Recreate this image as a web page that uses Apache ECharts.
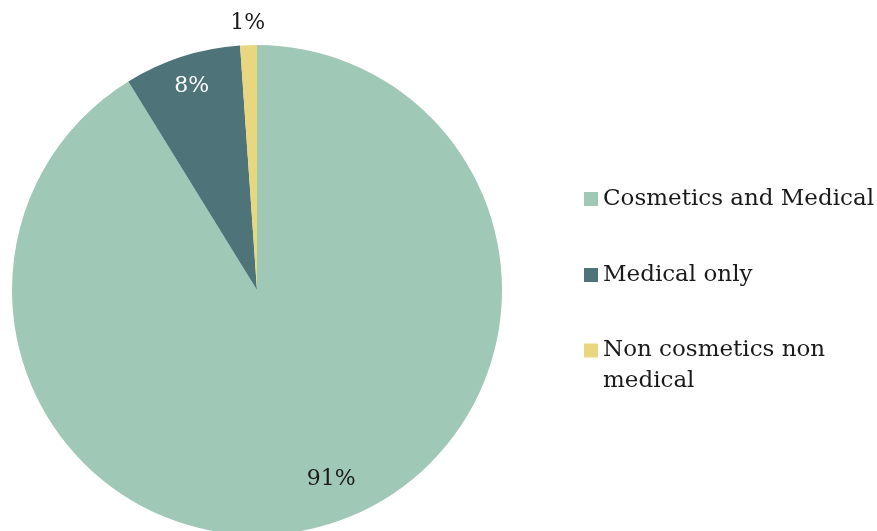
<!DOCTYPE html>
<html>
<head>
<meta charset="utf-8">
<script src="https://cdn.jsdelivr.net/npm/echarts@6/dist/echarts.min.js"></script>
<style>
html,body{margin:0;padding:0;background:#fff;}
#chart{width:877px;height:531px;}
</style>
</head>
<body>
<div id="chart"></div>
<script>
var categories = ['Cosmetics and Medical', 'Medical only', 'Non cosmetics non medical'];
var values = [91.2, 7.7, 1.1];
var colors = ['#A0C8B7', '#4E747A', '#E8D77E'];
var labelColors = ['#1a1a1a', '#ffffff', '#1a1a1a'];
var labelNudges = [[40, 69], [-27, -84], [-5, -141]];

var FONT = 'DejaVu Serif';
var chart = echarts.init(document.getElementById('chart'));

var data = categories.map(function (c, i) {
  return {
    name: c,
    value: values[i],
    itemStyle: { color: colors[i] },
    label: { color: labelColors[i] }
  };
});

var legendBase = {
  orient: 'vertical',
  left: 584,
  padding: 0,
  itemWidth: 14,
  itemHeight: 14,
  itemGap: 50,
  icon: 'rect',
  selectedMode: false,
  textStyle: { fontFamily: FONT, fontSize: 23, color: '#1a1a1a', lineHeight: 26 }
};

chart.setOption({
  animation: false,
  legend: [
    Object.assign({}, legendBase, {
      top: 186,
      data: [categories[0], categories[1]]
    }),
    Object.assign({}, legendBase, {
      top: 304,
      data: [categories[2]],
      textStyle: { fontFamily: FONT, fontSize: 23, color: '#1a1a1a', lineHeight: 31 },
      formatter: function (name) {
        var words = name.split(' ');
        return '\n' + words.slice(0, 3).join(' ') + '\n' + words.slice(3).join(' ');
      }
    })
  ],
  series: [{
    type: 'pie',
    center: [257, 290],
    radius: 245,
    startAngle: 90,
    clockwise: true,
    silent: true,
    label: {
      show: true,
      position: 'inside',
      fontFamily: FONT,
      fontSize: 22,
      formatter: function (p) { return Math.round(p.percent) + '%'; }
    },
    labelLine: { show: false },
    labelLayout: function (p) {
      var n = labelNudges[p.dataIndex];
      return { dx: n[0], dy: n[1] };
    },
    emphasis: { disabled: true },
    data: data
  }]
});
</script>
</body>
</html>
